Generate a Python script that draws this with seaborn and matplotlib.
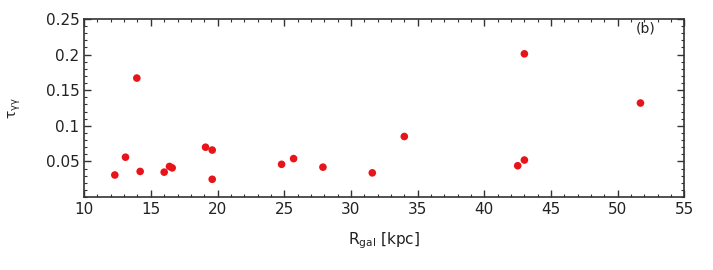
import numpy as np
import pandas as pd
import seaborn as sns
import matplotlib.pyplot as plt
from matplotlib.ticker import MultipleLocator

# galactocentric distance [kpc] and tau_gamma-gamma
r_gal = [12.3, 13.1, 13.95, 14.2, 16.0, 16.4, 16.6, 19.1, 19.6, 19.6,
         24.8, 25.7, 27.9, 31.6, 34.0, 42.5, 43.0, 43.0, 51.7]
tau_gg = [0.031, 0.056, 0.167, 0.036, 0.035, 0.043, 0.041, 0.070, 0.066, 0.025,
          0.046, 0.054, 0.042, 0.034, 0.085, 0.044, 0.052, 0.201, 0.132]

df = pd.DataFrame({"r_gal": r_gal, "tau": tau_gg})

sns.set_style("ticks")
plt.rcParams['font.family'] = ['DejaVu Sans']

fig, ax = plt.subplots(figsize=(7.13, 2.70), dpi=100)
fig.subplots_adjust(left=0.118, right=0.96, top=0.93, bottom=0.27)

sns.scatterplot(data=df, x="r_gal", y="tau", ax=ax, color="#e8141a",
                s=30, edgecolor="none", legend=False)

ax.set_xlim(10, 55)
ax.set_ylim(0, 0.25)
ax.xaxis.set_major_locator(MultipleLocator(5))
ax.xaxis.set_minor_locator(MultipleLocator(1))
ax.set_yticks([0.05, 0.1, 0.15, 0.2, 0.25])
ax.set_yticklabels(["0.05", "0.1", "0.15", "0.2", "0.25"])
ax.yaxis.set_minor_locator(MultipleLocator(0.01))
ax.tick_params(which="both", direction="in", top=True, right=True,
               colors="#333333", labelcolor="#222222", labelsize=11)
ax.tick_params(which="major", length=5, width=1)
ax.tick_params(which="minor", length=2.5, width=0.8)
for sp in ax.spines.values():
    sp.set_color("#333333")
    sp.set_linewidth(1.2)

ax.set_xlabel(r"R$_{\mathregular{gal}}$ [kpc]", fontsize=11, color="#222222", labelpad=10)
ax.set_ylabel(r"$\mathregular{\tau_{\gamma\gamma}}$", fontsize=10, color="#222222", labelpad=16)
ax.text(0.935, 0.985, "(b)", transform=ax.transAxes, ha="center", va="top",
        fontsize=10, color="#222222")

plt.savefig("out.png", dpi=100)
